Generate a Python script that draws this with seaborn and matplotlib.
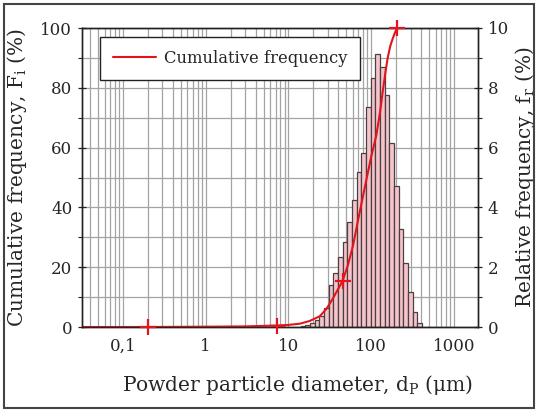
import numpy as np
import matplotlib
matplotlib.use("Agg")
import matplotlib.pyplot as plt
import seaborn as sns
from matplotlib.ticker import MultipleLocator, LogLocator, FixedLocator, FixedFormatter, NullFormatter
from matplotlib.patches import Rectangle

# ---------------- data ----------------
# histogram: log10 bin range and relative frequencies f_r (%)
bin_log_start = 1.147
bin_log_width = 0.0564
rel_freq = [0.05, 0.08, 0.12, 0.23, 0.37, 0.63, 1.40, 1.79, 2.35, 2.85,
            3.52, 4.25, 5.19, 5.81, 7.37, 8.32, 9.13, 8.71, 7.76, 6.14,
            4.72, 3.28, 2.13, 1.16, 0.49, 0.14]

# cumulative frequency curve F_i (%)
curve_d = [0.032, 0.2, 1.0, 3.0, 7.3, 10.0, 13.7, 18.0, 23.9, 29.0, 34.5,
           40.0, 45, 52, 60, 72, 87, 100, 115, 128, 138, 150, 158, 170,
           182, 195, 207, 1950]
curve_F = [0.0, 0.0, 0.1, 0.2, 0.5, 0.7, 1.1, 2.0, 3.6, 6.2, 9.6,
           12.8, 15.4, 20.5, 27, 38, 49, 57, 64, 72, 79, 86, 90, 94,
           96.5, 98.7, 100, 100]

# "+" markers on the curve
marker_d = [0.2, 7.3, 45, 207]
marker_F = [0.0, 0.5, 15.4, 100.0]

x_ticks = [0.1, 1, 10, 100, 1000]
x_tick_labels = ["0,1", "1", "10", "100", "1000"]

legend_label = "Cumulative frequency"
xlabel = r"Powder particle diameter, d$_\mathregular{P}$ (μm)"
ylabel_left = r"Cumulative frequency, F$_\mathregular{i}$ (%)"
ylabel_right = r"Relative frequency, f$_\mathregular{r}$ (%)"

# ---------------- style ----------------
sns.set_theme(style="white")
plt.rcParams["font.family"] = ["DejaVu Serif"]
plt.rcParams["mathtext.fontset"] = "dejavuserif"

red = "#e3141c"
grid_col = "#a3a3a3"

fig = plt.figure(figsize=(5.38, 4.12), dpi=100)
ax = fig.add_axes([82 / 538, 1 - 327 / 412, 396 / 538, 299 / 412])

n = len(rel_freq)
centers = 10 ** (bin_log_start + bin_log_width * (np.arange(n) + 0.5))
sns.histplot(x=centers, weights=rel_freq, bins=n,
             binrange=(bin_log_start, bin_log_start + n * bin_log_width),
             log_scale=True, ax=ax, color="#f5c4cb", edgecolor="#4a4040",
             linewidth=0.9, alpha=1.0)

ax2 = ax.twinx()
sns.lineplot(x=curve_d, y=curve_F, ax=ax2, color=red, linewidth=1.5,
             label=legend_label)
sns.scatterplot(x=marker_d, y=marker_F, ax=ax2, marker="+", s=130,
                color=red, linewidth=1.6, zorder=5, clip_on=False)

ax.set_xlim(0.032, 1950)
ax.set_ylim(0, 10)
ax.set_axisbelow(True)
ax.xaxis.set_major_locator(FixedLocator(x_ticks))
ax.xaxis.set_major_formatter(FixedFormatter(x_tick_labels))
ax.xaxis.set_minor_locator(LogLocator(base=10, subs=np.arange(2, 10)))
ax.xaxis.set_minor_formatter(NullFormatter())
ax.yaxis.set_major_locator(MultipleLocator(2))
ax.yaxis.set_minor_locator(MultipleLocator(1))
ax.grid(True, which="both", axis="both", color=grid_col, linewidth=0.9)
ax.yaxis.tick_right()
ax.yaxis.set_label_position("right")
ax.set_ylabel(ylabel_right, fontsize=14.5)
ax.set_xlabel(xlabel, fontsize=14.5)
ax.xaxis.set_label_coords(0.545, -0.155)
ax.yaxis.set_label_coords(1.088, 0.5)

ax2.set_ylim(0, 100)
ax2.yaxis.tick_left()
ax2.yaxis.set_label_position("left")
ax2.yaxis.set_major_locator(MultipleLocator(20))
ax2.yaxis.set_minor_locator(MultipleLocator(10))
ax2.set_ylabel(ylabel_left, fontsize=14.5)
ax2.yaxis.set_label_coords(-0.134, 0.5)
ax2.grid(False)

for a in (ax, ax2):
    for s in a.spines.values():
        s.set_visible(True)
        s.set_color("#222222")
        s.set_linewidth(1.0)
    a.tick_params(which="major", length=6, width=0.9, color="#222222",
                  labelsize=12, direction="inout", pad=4)
    a.tick_params(which="minor", length=3, width=0.8, color="#222222",
                  direction="out")
ax.tick_params(axis="x", which="both", length=0, pad=8)
ax.tick_params(axis="y", which="both", left=False, labelleft=False,
               right=True, labelright=True)
ax2.tick_params(axis="y", which="both", left=True, labelleft=True,
                right=False, labelright=False)

leg = ax2.legend(loc="upper left", bbox_to_anchor=(0.045, 0.97),
                 borderaxespad=0.0, fontsize=11.8, frameon=True,
                 fancybox=False, framealpha=1, edgecolor="#222222",
                 handlelength=2.6, handletextpad=0.5, borderpad=0.8)
leg.get_frame().set_linewidth(1.0)

fig.patches.append(Rectangle((4 / 538, 4 / 412), 530 / 538, 404 / 412,
                             transform=fig.transFigure, fill=False,
                             edgecolor="#444444", linewidth=1.5))

fig.savefig("out.png", dpi=100)
